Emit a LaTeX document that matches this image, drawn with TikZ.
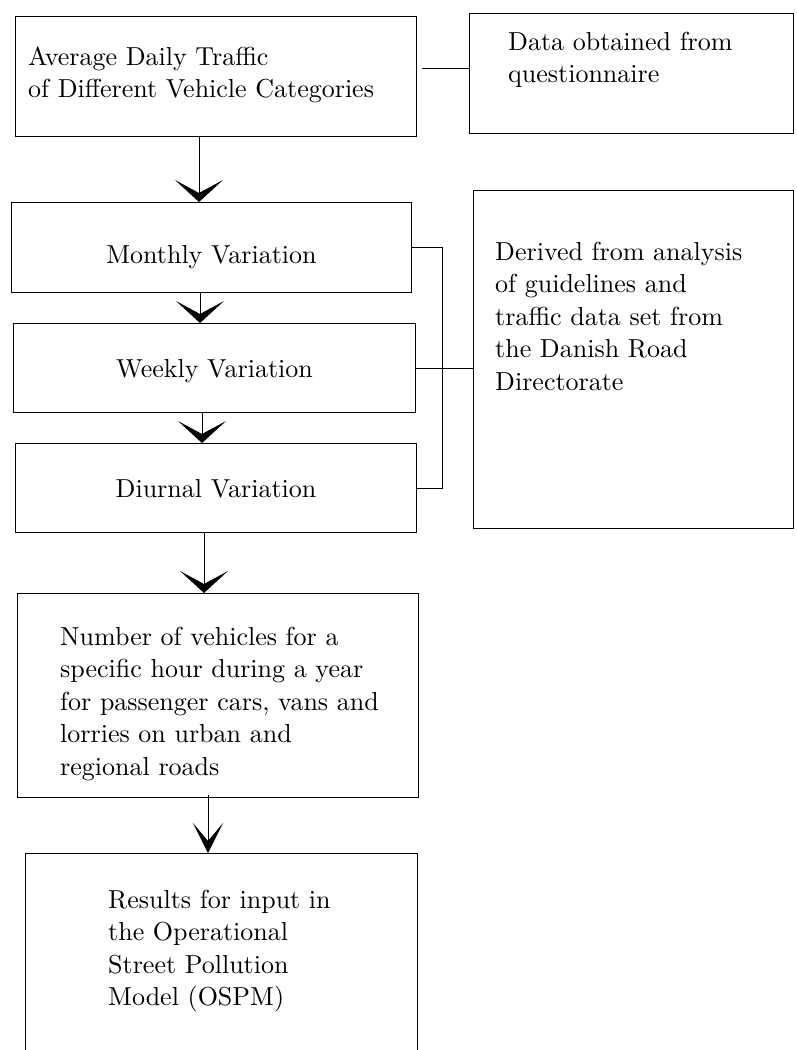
\documentclass[tikz,border=0pt]{standalone}
\usepackage{fontspec}
\setmainfont{lmroman10-regular.otf}
\usepackage{tikz}
\usetikzlibrary{positioning, arrows.meta}

\begin{document}
\begin{tikzpicture}[
    x=1pt, y=-1pt,
    every node/.style={font=\fontsize{26}{32.5}\selectfont},
    frame_style/.style={draw, line width=1pt, anchor=north west, inner sep=0pt},
    text_style/.style={anchor=base west, inner sep=0pt, text width=285pt, align=left},
    link_style/.style={line width=1pt},
    flow_style/.style={line width=1pt, -{Stealth[length=22pt, width=48pt, inset=13pt]}},
    last_flow_style/.style={line width=1pt, -{Stealth[length=30pt, width=30pt, inset=18pt]}}
]
    \useasboundingbox (0,0) rectangle (796,1050);

    % Boxes
    \node[frame_style, minimum width=401pt, minimum height=120pt] (adt) at (15,16) {};
    \node[frame_style, minimum width=324pt, minimum height=120pt] (qst) at (469,13) {};
    \node[frame_style, minimum width=320pt, minimum height=338pt] (der) at (473,190) {};
    \node[frame_style, minimum width=400pt, text height=61pt, text depth=29pt] (mon) at (11,202) {Monthly Variation};
    \node[frame_style, minimum width=402pt, text height=54pt, text depth=35pt] (wk) at (13,323) {Weekly Variation};
    \node[frame_style, minimum width=401pt, text height=54pt, text depth=35pt] (diu) at (15,443) {Diurnal Variation};
    \node[frame_style, minimum width=401pt, minimum height=204pt] (num) at (17,593) {};
    \node[frame_style, draw=none, minimum width=391pt, minimum height=197pt] (res) at (25,853) {};
    \draw[link_style] (res.south west) -- (res.north west) -- (res.north east) -- (res.south east);

    % Texts
    \node[text_style, text width=380pt] (adt_txt) at ([shift={(13,49)}]adt.north west) {Average Daily Traffic\\of Different Vehicle Categories};
    \node[text_style] (qst_txt) at ([shift={(39,37)}]qst.north west) {Data obtained from\\questionnaire};
    \node[text_style] (der_txt) at ([shift={(22,70)}]der.north west) {Derived from analysis\\of guidelines and\\traffic data set from\\the Danish Road\\Directorate};
    \node[text_style, text width=355pt] (num_txt) at ([shift={(43,52)}]num.north west) {Number of vehicles for a\\specific hour during a year\\for passenger cars, vans and\\lorries on urban and\\regional roads};
    \node[text_style] (res_txt) at ([shift={(83,55)}]res.north west) {Results for input in\\the Operational\\Street Pollution\\Model (OSPM)};

    % Links
    \coordinate (brk) at (442,0);
    \draw[link_style, shorten <=5pt] (adt.east |- 0,68) -- (qst.west |- 0,68);
    \draw[link_style] (mon.east) -- (mon.east -| brk) |- (diu.east);
    \draw[link_style] (wk.east) -- (wk.east -| der.west);

    % Arrows
    \draw[flow_style] (adt.south -| 199,0) -- (mon.north -| 199,0);
    \draw[flow_style] (mon.south -| 200,0) -- (wk.north -| 200,0);
    \draw[flow_style] (wk.south -| 202,0) -- (diu.north -| 202,0);
    \draw[flow_style] (diu.south -| 204,0) -- (num.north -| 204,0);
    \draw[last_flow_style] ([yshift=3pt]num.south -| 208,0) -- (res.north -| 208,0);
\end{tikzpicture}
\end{document}
